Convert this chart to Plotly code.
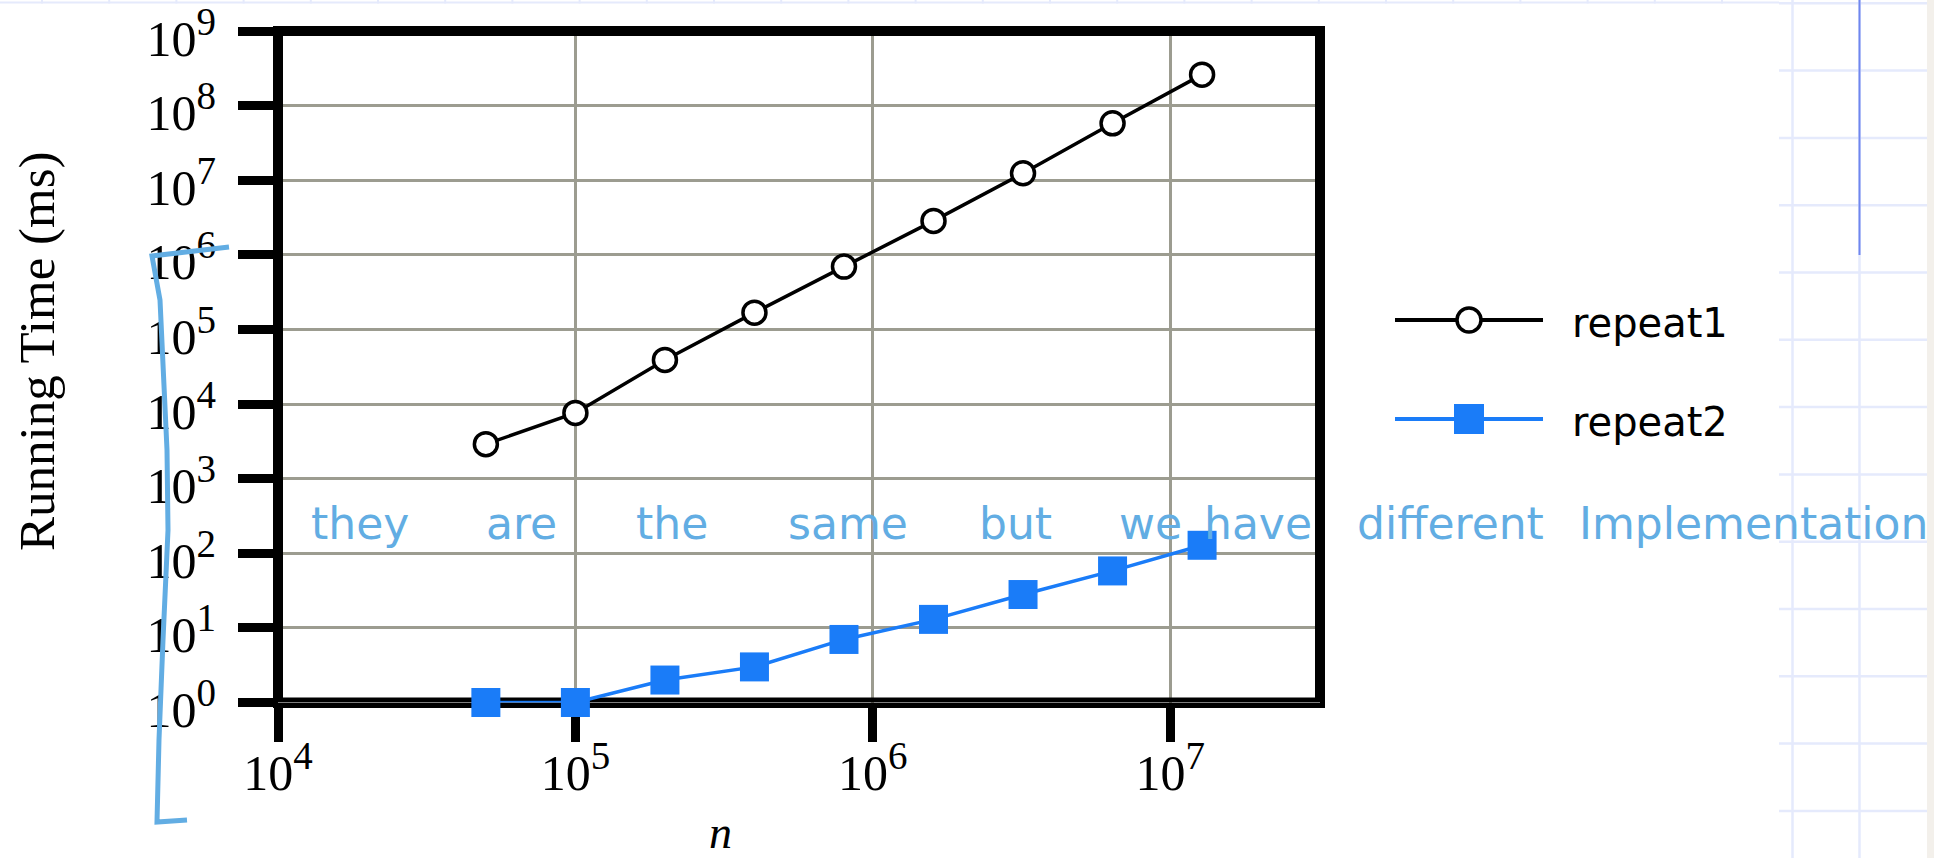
import math
import plotly.graph_objects as go

W, H = 1934, 858

# Problem sizes (doubling each run) and measured running times in ms
n_values = [5e4, 1e5, 2e5, 4e5, 8e5, 1.6e6, 3.2e6, 6.4e6, 1.28e7]
repeat1_ms = [2900, 7600, 39000, 168000, 695000, 2.85e6, 1.24e7, 5.8e7, 2.6e8]
repeat2_ms = [1, 1, 2, 3, 7, 13, 28, 58, 128]

series_names = ["repeat1", "repeat2"]

x_tick_vals = [1e4, 1e5, 1e6, 1e7]
y_tick_vals = [1e0, 1e1, 1e2, 1e3, 1e4, 1e5, 1e6, 1e7, 1e8, 1e9]

note_words = ["they", "are", "the", "same", "but", "we", "have", "different", "Implementation"]

BLACK = "#000000"
BLUE = "#1a7cf8"
INK = "#62ade3"
GRID = "#9c9c90"
PAPER_GRID = "#e5eafc"
SERIF = "Liberation Serif, Times New Roman, serif"
SANS = "DejaVu Sans, sans-serif"
TICK_SIZE = 50
SUP_SIZE = 39


def power_label(v):
    """Write a tick value as 10 with a raised exponent."""
    k = round(math.log10(v))
    return f"10<sup><span style='font-size:{SUP_SIZE}px'>{k}</span></sup>"


def px(x):
    return x / W


def py(y):
    return 1 - y / H


# plot box in page pixels
LEFT, RIGHT, TOP, BOTTOM = 278, 1320, 31, 702.5
DECADE_X = 297.4
X_RANGE = [4, 4 + (RIGHT - LEFT) / DECADE_X]
Y_RANGE = [0, 9]
FRAME_W = 10

fig = go.Figure()

# inner half of the heavy frame: a closed line along the axis range limits,
# clipped to the plot area (the outer half comes from the axis lines)
x_lo, x_hi = 10 ** X_RANGE[0], 10 ** X_RANGE[1]
y_lo, y_hi = 10 ** Y_RANGE[0], 10 ** Y_RANGE[1]
x_mid = math.sqrt(x_lo * x_hi)
fig.add_trace(go.Scatter(
    x=[x_mid, x_hi, x_hi, x_lo, x_lo, x_mid],
    y=[y_lo, y_lo, y_hi, y_hi, y_lo, y_lo],
    mode="lines", line=dict(color=BLACK, width=FRAME_W),
    showlegend=False, hoverinfo="skip",
))

fig.add_trace(go.Scatter(
    x=n_values, y=repeat1_ms, name=series_names[0], mode="lines+markers",
    line=dict(color=BLACK, width=3.5),
    marker=dict(symbol="circle", size=23, color="white", line=dict(color=BLACK, width=3.5)),
    cliponaxis=False, showlegend=False,
))
fig.add_trace(go.Scatter(
    x=n_values, y=repeat2_ms, name=series_names[1], mode="lines+markers",
    line=dict(color=BLUE, width=3.5),
    marker=dict(symbol="square", size=29, color=BLUE, line=dict(width=0)),
    cliponaxis=False, showlegend=False,
))

# legend keys on a small hidden axis pair
key_styles = [
    dict(line=dict(color=BLACK, width=4),
         marker=dict(symbol="circle", size=24, color="white", line=dict(color=BLACK, width=3.5),
                     opacity=[0, 1, 0])),
    dict(line=dict(color=BLUE, width=4),
         marker=dict(symbol="square", size=30, color=BLUE, line=dict(width=0),
                     opacity=[0, 1, 0])),
]
for row, (name, style) in enumerate(zip(series_names, key_styles)):
    fig.add_trace(go.Scatter(
        x=[0, 0.5, 1], y=[row, row, row], mode="lines+markers",
        xaxis="x2", yaxis="y2", showlegend=False, hoverinfo="skip",
        cliponaxis=False, **style,
    ))

axis_font = dict(family=SERIF, size=TICK_SIZE, color=BLACK)
common_axis = dict(
    type="log", tickfont=axis_font, automargin=False,
    ticks="outside", tickwidth=9, tickcolor=BLACK, ticklabeloverflow="allow",
    showgrid=True, gridcolor=GRID, gridwidth=2.5, zeroline=False,
    showline=True, mirror=True, linecolor=BLACK, linewidth=FRAME_W / 2,
    layer="below traces",
)

fig.update_layout(
    width=W, height=H,
    margin=dict(l=0, r=0, t=0, b=0),
    paper_bgcolor="white", plot_bgcolor="white",
    xaxis=dict(
        domain=[px(LEFT), px(RIGHT)], range=X_RANGE,
        tickvals=x_tick_vals, ticktext=[power_label(v) for v in x_tick_vals],
        ticklen=34, ticklabelstandoff=-12, **common_axis,
    ),
    yaxis=dict(
        domain=[py(BOTTOM), py(TOP)], range=Y_RANGE,
        tickvals=y_tick_vals, ticktext=[power_label(v) for v in y_tick_vals],
        ticklen=35, ticklabelstandoff=12, ticklabelshift=7, **common_axis,
    ),
    xaxis2=dict(domain=[px(1395), px(1543)], range=[0, 1], visible=False,
                anchor="y2", automargin=False),
    yaxis2=dict(domain=[py(468.5), py(270.5)], range=[1.5, -0.5], visible=False,
                anchor="x2", automargin=False),
)

shapes = []

# notebook paper behind the chart image
for k in range(27):
    gx = 42 + 67.2 * k
    if gx < 1779:
        shapes.append(dict(type="line", xref="paper", yref="paper", layer="below",
                           x0=px(gx), x1=px(gx), y0=py(0), y1=py(3.5),
                           line=dict(color=PAPER_GRID, width=2)))
shapes.append(dict(type="line", xref="paper", yref="paper", layer="below",
                   x0=0, x1=px(1779), y0=py(2.5), y1=py(2.5),
                   line=dict(color=PAPER_GRID, width=2)))
for k in range(13):
    gy = 3.3 + 67.3 * k
    shapes.append(dict(type="line", xref="paper", yref="paper", layer="below",
                       x0=px(1779), x1=px(1927), y0=py(gy), y1=py(gy),
                       line=dict(color=PAPER_GRID, width=2.5)))
for gx in (1792.5, 1859.5):
    shapes.append(dict(type="line", xref="paper", yref="paper", layer="below",
                       x0=px(gx), x1=px(gx), y0=0, y1=1,
                       line=dict(color=PAPER_GRID, width=2.5)))
shapes.append(dict(type="line", xref="paper", yref="paper", layer="below",
                   x0=px(1859.5), x1=px(1859.5), y0=py(0), y1=py(255),
                   line=dict(color="#6f86ef", width=2)))
shapes.append(dict(type="rect", xref="paper", yref="paper", layer="below",
                   x0=px(1927), x1=1, y0=0, y1=1,
                   fillcolor="#f3f0eb", line=dict(width=0)))

# hand-drawn bracket along the left side
bracket = [(229, 247), (152, 256), (160, 300), (167, 450), (168, 530),
           (163, 640), (159, 740), (157, 822), (187, 820)]
path = "M " + " L ".join(f"{px(x):.5f},{py(y):.5f}" for x, y in bracket)
shapes.append(dict(type="path", xref="paper", yref="paper", path=path,
                   line=dict(color=INK, width=5)))

fig.update_layout(shapes=shapes)

annotations = []
# axis titles
annotations.append(dict(text="Running Time (ms)", xref="paper", yref="paper",
                        x=px(37), y=py(351), textangle=-90, showarrow=False,
                        xanchor="center", yanchor="middle",
                        font=dict(family=SERIF, size=51, color=BLACK)))
annotations.append(dict(text="<i>n</i>", xref="paper", yref="paper",
                        x=px(720), y=py(832), showarrow=False,
                        xanchor="center", yanchor="middle",
                        font=dict(family=SERIF, size=46, color=BLACK)))

# legend labels
for row, name in enumerate(series_names):
    annotations.append(dict(text=name, xref="x2", yref="y2", x=1, y=row,
                            xshift=27, yshift=-3, showarrow=False,
                            xanchor="left", yanchor="middle",
                            font=dict(family=SANS, size=40, color=BLACK)))

# handwritten note across the chart
word_centers = [360, 521, 672, 848, 1015, 1150, 1258, 1450, 1753]
for word, cx in zip(note_words, word_centers):
    annotations.append(dict(text=word, xref="paper", yref="paper",
                            x=px(cx), y=py(523), showarrow=False,
                            xanchor="center", yanchor="middle",
                            font=dict(family=SANS, size=44, color=INK)))

fig.update_layout(annotations=annotations)

fig.write_html("out.html")
